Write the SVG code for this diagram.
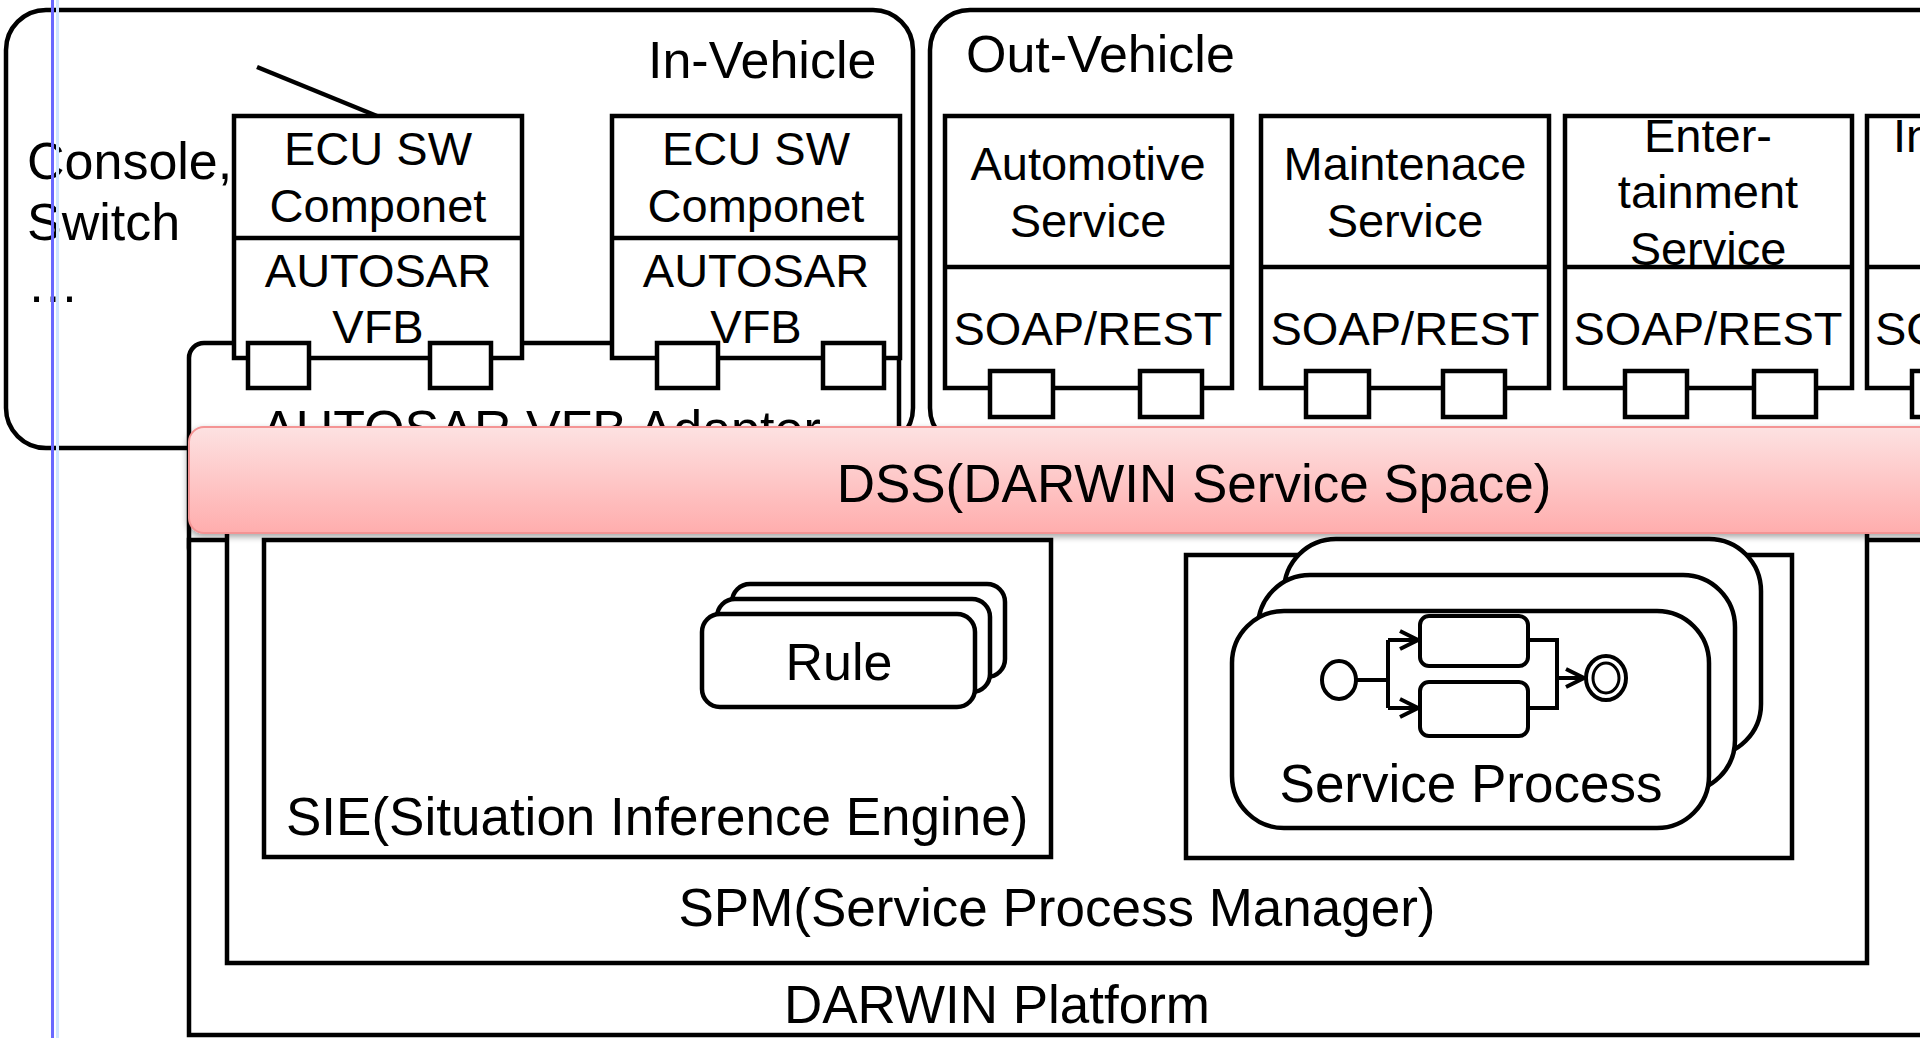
<svg xmlns="http://www.w3.org/2000/svg" width="1920" height="1038" viewBox="0 0 1920 1038">
  <defs>
    <linearGradient id="dssFill" x1="0" y1="0" x2="0" y2="1">
      <stop offset="0" stop-color="#fde2e2"/>
      <stop offset="1" stop-color="#ffadad"/>
    </linearGradient>
    <filter id="dssShadow" x="-5%" y="-20%" width="110%" height="150%">
      <feDropShadow dx="-1" dy="3" stdDeviation="3" flood-color="#000" flood-opacity="0.35"/>
    </filter>
    <marker id="chev" viewBox="0 0 22 22" refX="20" refY="11" markerWidth="22" markerHeight="22" markerUnits="userSpaceOnUse" orient="auto">
      <path d="M2,2 L20,11 L2,20" fill="none" stroke="#000" stroke-width="4"/>
    </marker>
  </defs>
  <style>
    .box { fill: #fff; stroke: #000; stroke-width: 4.5; }
    .frame { fill: none; stroke: #000; stroke-width: 4.5; }
    .ln { fill: none; stroke: #000; stroke-width: 4.5; }
    .bp { fill: #fff; stroke: #000; stroke-width: 4; }
    .bl { fill: none; stroke: #000; stroke-width: 4; }
    .t { font-family: "Liberation Sans", Arial, sans-serif; fill: #000; }
    .s47 { font-size: 47px; }
    .s52 { font-size: 52px; }
    .s53 { font-size: 53px; }
    .mid { text-anchor: middle; }
  </style>

  <rect width="1920" height="1038" fill="#fff"/>

  <!-- In-Vehicle area -->
  <g id="in-vehicle">
    <rect class="frame" x="6" y="10" width="907" height="438" rx="40"/>
    <text class="t s52" x="648" y="78">In-Vehicle</text>
    <text class="t s52" x="27" y="179">Console,</text>
    <text class="t s52" x="27" y="240">Switch</text>
    <text class="t s52" x="27" y="302">…</text>
  </g>

  <!-- Out-Vehicle area -->
  <g id="out-vehicle">
    <rect class="frame" x="930" y="10" width="1100" height="438" rx="40"/>
    <text class="t s52" x="966" y="72">Out-Vehicle</text>
  </g>

  <!-- AUTOSAR VFB Adapter -->
  <g id="vfb-adapter">
    <rect class="box" x="189" y="343" width="710" height="220" rx="15"/>
    <text class="t s52" x="261" y="447">AUTOSAR VFB Adapter</text>
  </g>

  <!-- connectors -->
  <g id="connectors">
    <line class="ln" x1="257" y1="67" x2="377" y2="116"/>
  </g>

  <!-- ECU SW components -->
  <g id="ecu-1">
    <rect class="box" x="234" y="116" width="288" height="242"/>
    <line class="ln" x1="234" y1="238" x2="522" y2="238"/>
    <text class="t s47 mid" x="378" y="165">ECU SW</text>
    <text class="t s47 mid" x="378" y="222">Componet</text>
    <text class="t s47 mid" x="378" y="287">AUTOSAR</text>
    <text class="t s47 mid" x="378" y="343">VFB</text>
    <rect class="box" x="248" y="343" width="61" height="45"/>
    <rect class="box" x="430" y="343" width="61" height="45"/>
  </g>
  <g id="ecu-2">
    <rect class="box" x="612" y="116" width="288" height="242"/>
    <line class="ln" x1="612" y1="238" x2="900" y2="238"/>
    <text class="t s47 mid" x="756" y="165">ECU SW</text>
    <text class="t s47 mid" x="756" y="222">Componet</text>
    <text class="t s47 mid" x="756" y="287">AUTOSAR</text>
    <text class="t s47 mid" x="756" y="343">VFB</text>
    <rect class="box" x="657" y="343" width="61" height="45"/>
    <rect class="box" x="823" y="343" width="61" height="45"/>
  </g>

  <!-- Out-Vehicle services -->
  <g id="svc-automotive">
    <rect class="box" x="945" y="116" width="287" height="272"/>
    <line class="ln" x1="945" y1="267" x2="1232" y2="267"/>
    <text class="t s47 mid" x="1088" y="180">Automotive</text>
    <text class="t s47 mid" x="1088" y="237">Service</text>
    <text class="t s47 mid" x="1088" y="345">SOAP/REST</text>
    <rect class="box" x="990" y="371" width="63" height="46"/>
    <rect class="box" x="1140" y="371" width="62" height="46"/>
  </g>
  <g id="svc-maintenance">
    <rect class="box" x="1261" y="116" width="288" height="272"/>
    <line class="ln" x1="1261" y1="267" x2="1549" y2="267"/>
    <text class="t s47 mid" x="1405" y="180">Maintenace</text>
    <text class="t s47 mid" x="1405" y="237">Service</text>
    <text class="t s47 mid" x="1405" y="345">SOAP/REST</text>
    <rect class="box" x="1306" y="371" width="63" height="46"/>
    <rect class="box" x="1443" y="371" width="62" height="46"/>
  </g>
  <g id="svc-entertainment">
    <rect class="box" x="1565" y="116" width="287" height="272"/>
    <text class="t s47 mid" x="1708" y="152">Enter-</text>
    <text class="t s47 mid" x="1708" y="208">tainment</text>
    <text class="t s47 mid" x="1708" y="265">Service</text>
    <line class="ln" x1="1565" y1="267" x2="1852" y2="267"/>
    <text class="t s47 mid" x="1708" y="345">SOAP/REST</text>
    <rect class="box" x="1625" y="371" width="62" height="46"/>
    <rect class="box" x="1754" y="371" width="62" height="46"/>
  </g>
  <g id="svc-4">
    <rect class="box" x="1867" y="116" width="287" height="272"/>
    <line class="ln" x1="1867" y1="267" x2="2154" y2="267"/>
    <text class="t s47" x="1893" y="152">In</text>
    <text class="t s47" x="1875" y="345">SOAP/REST</text>
    <rect class="box" x="1912" y="371" width="62" height="46"/>
  </g>

  <!-- DARWIN Platform -->
  <g id="darwin-platform">
    <rect class="box" x="189" y="540" width="1800" height="495"/>
    <text class="t s53 mid" x="997" y="1023">DARWIN Platform</text>
  </g>

  <!-- Service Process Manager -->
  <g id="spm">
    <rect class="box" x="227" y="480" width="1640" height="483"/>
    <text class="t s53 mid" x="1057" y="926">SPM(Service Process Manager)</text>
  </g>

  <!-- Situation Inference Engine -->
  <g id="sie">
    <rect class="box" x="264" y="540" width="787" height="317"/>
    <text class="t s53" x="286" y="835">SIE(Situation Inference Engine)</text>
  </g>

  <!-- Rule stack -->
  <g id="rule">
    <rect class="box" x="732" y="584" width="273" height="93" rx="18"/>
    <rect class="box" x="717" y="599" width="273" height="93" rx="18"/>
    <rect class="box" x="702" y="614" width="273" height="93" rx="18"/>
    <text class="t s52 mid" x="839" y="680">Rule</text>
  </g>

  <!-- Service Process container and stack -->
  <g id="service-process">
    <rect class="box" x="1186" y="555" width="606" height="303"/>
    <rect class="box" x="1284" y="539" width="477" height="217" rx="52"/>
    <rect class="box" x="1258" y="575" width="477" height="217" rx="52"/>
    <rect class="box" x="1232" y="611" width="477" height="217" rx="52"/>
    <text class="t s53 mid" x="1471" y="802">Service Process</text>
  </g>

  <!-- process flow inside Service Process -->
  <g id="process-flow">
    <ellipse class="bp" cx="1339" cy="680" rx="17" ry="19"/>
    <rect class="bp" x="1420" y="616" width="108" height="50" rx="9"/>
    <rect class="bp" x="1420" y="682" width="108" height="54" rx="9"/>
    <path class="bl" d="M1356,680 H1388 M1388,640 V708"/>
    <path class="bl" d="M1388,640 H1418" marker-end="url(#chev)"/>
    <path class="bl" d="M1388,708 H1418" marker-end="url(#chev)"/>
    <path class="bl" d="M1528,640 H1557 V708 H1528"/>
    <path class="bl" d="M1557,678 H1584" marker-end="url(#chev)"/>
    <ellipse class="bp" cx="1606" cy="678" rx="20" ry="22"/>
    <ellipse cx="1606" cy="678" rx="13" ry="15" fill="none" stroke="#000" stroke-width="3"/>
  </g>

  <!-- DARWIN Service Space bar -->
  <g id="dss">
    <rect x="189" y="427" width="1760" height="106" rx="15" fill="url(#dssFill)" stroke="#f49494" stroke-width="2" filter="url(#dssShadow)"/>
    <text class="t s53 mid" x="1194" y="502">DSS(DARWIN Service Space)</text>
  </g>

  <!-- guide lines at the left edge -->
  <g id="guides">
    <line x1="52.5" y1="0" x2="52.5" y2="1038" stroke="#6a6aff" stroke-width="3"/>
    <line x1="57.5" y1="0" x2="57.5" y2="1038" stroke="#cfe6ff" stroke-width="3"/>
  </g>
</svg>
